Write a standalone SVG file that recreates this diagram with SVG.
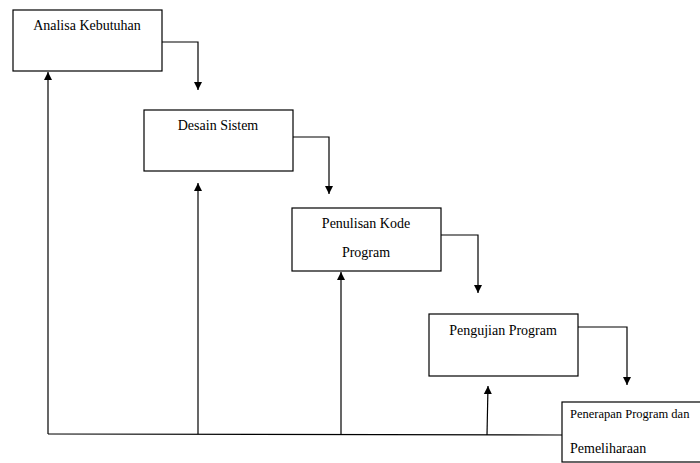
<svg xmlns="http://www.w3.org/2000/svg" width="700" height="463" viewBox="0 0 700 463">
<style>
.box{fill:#fff;stroke:#000;stroke-width:1.2}
.lbl{font-family:"Liberation Serif","Times New Roman",serif;font-size:14px;fill:#000}
.c{fill:none;stroke:#000;stroke-width:1.2}
</style>
<defs>
<marker id="ah" viewBox="0 0 8 10" refX="8" refY="5" markerWidth="8" markerHeight="10" markerUnits="userSpaceOnUse" orient="auto">
<path d="M0,1 L8,5 L0,9 Z" fill="#000"/>
</marker>
</defs>
<rect width="700" height="463" fill="#fff"/>
<g id="connectors">
<polyline class="c" points="162,42 198,42 198,90" marker-end="url(#ah)"/>
<polyline class="c" points="293,137 329,137 329,194" marker-end="url(#ah)"/>
<polyline class="c" points="441,235 478,235 478,293" marker-end="url(#ah)"/>
<polyline class="c" points="578,327 627,327 627,385" marker-end="url(#ah)"/>
<line class="c" x1="48" y1="434" x2="562" y2="435"/>
<line class="c" x1="48" y1="434" x2="48" y2="72" marker-end="url(#ah)"/>
<line class="c" x1="198" y1="434" x2="198" y2="183" marker-end="url(#ah)"/>
<line class="c" x1="341" y1="434" x2="341" y2="272" marker-end="url(#ah)"/>
<line class="c" x1="487" y1="435" x2="488" y2="386" marker-end="url(#ah)"/>
</g>
<g id="n1">
<rect class="box" x="13" y="10" width="149" height="61"/>
<text class="lbl" x="87" y="30" text-anchor="middle">Analisa Kebutuhan</text>
</g>
<g id="n2">
<rect class="box" x="144" y="110" width="149" height="61"/>
<text class="lbl" x="218" y="130" text-anchor="middle">Desain Sistem</text>
</g>
<g id="n3">
<rect class="box" x="292" y="208" width="149" height="63"/>
<text class="lbl" x="366" y="228" text-anchor="middle">Penulisan Kode</text>
<text class="lbl" x="366" y="257" text-anchor="middle">Program</text>
</g>
<g id="n4">
<rect class="box" x="429" y="314" width="149" height="62"/>
<text class="lbl" x="503" y="335" text-anchor="middle">Pengujian Program</text>
</g>
<g id="n5">
<rect class="box" x="562" y="402" width="160" height="60"/>
<text class="lbl" x="570" y="418" style="font-size:12.5px">Penerapan Program dan</text>
<text class="lbl" x="570" y="453">Pemeliharaan</text>
</g>
</svg>
